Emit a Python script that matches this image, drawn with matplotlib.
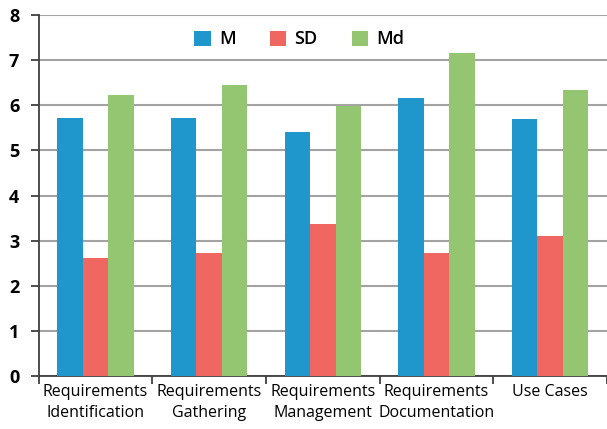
import numpy as np
import matplotlib.pyplot as plt
from matplotlib.patches import Patch

categories = ["Requirements\nIdentification", "Requirements\nGathering",
              "Requirements\nManagement", "Requirements\nDocumentation", "Use Cases"]
m_vals = [5.72, 5.72, 5.40, 6.16, 5.70]
sd_vals = [2.62, 2.72, 3.37, 2.72, 3.11]
md_vals = [6.22, 6.45, 5.98, 7.15, 6.34]

series = [("M", m_vals, "#1f97cc"), ("SD", sd_vals, "#ef6760"), ("Md", md_vals, "#94c571")]

plt.rcParams['font.family'] = ['Open Sans', 'DejaVu Sans']

fig = plt.figure(figsize=(6.07, 4.29), dpi=100)
ax = fig.add_axes([0.0638, 0.1235, 0.9362, 0.8415])

x = np.arange(len(categories))
w = 0.224
for i, (name, vals, col) in enumerate(series):
    ax.bar(x + (i - 1) * w, vals, width=w, color=col, zorder=3)

ax.set_xlim(-0.5, 4.476)
ax.set_ylim(0, 8)
ax.set_yticks(range(0, 9))
ax.set_yticklabels([str(v) for v in range(0, 9)], fontsize=13, fontweight='bold')
ax.yaxis.grid(True, color='#a3a3a3', linewidth=1.5, zorder=0)

# category labels centred, tick marks on the group boundaries
ax.set_xticks(x)
ax.set_xticklabels(categories, fontsize=11.5, linespacing=1.35)
ax.tick_params(axis='x', length=0, pad=6)
ax.set_xticks(np.arange(-0.5, 5, 1), minor=True)
ax.tick_params(axis='x', which='minor', length=6, width=1.3, color='#404040', direction='out')
ax.tick_params(axis='y', length=6, width=1.3, color='#404040', pad=8)

for side in ['top', 'right']:
    ax.spines[side].set_visible(False)
for side in ['left', 'bottom']:
    ax.spines[side].set_color('#404040')
    ax.spines[side].set_linewidth(1.3)

handles = [Patch(facecolor=c, label=n) for n, _, c in series]
fig.legend(handles=handles, loc='center', bbox_to_anchor=(0.493, 0.908), ncol=3,
           frameon=False, handlelength=0.9, handleheight=0.9, handletextpad=0.45,
           columnspacing=1.9, prop={'size': 13, 'weight': 'semibold'})

fig.savefig("out.png", dpi=100)
